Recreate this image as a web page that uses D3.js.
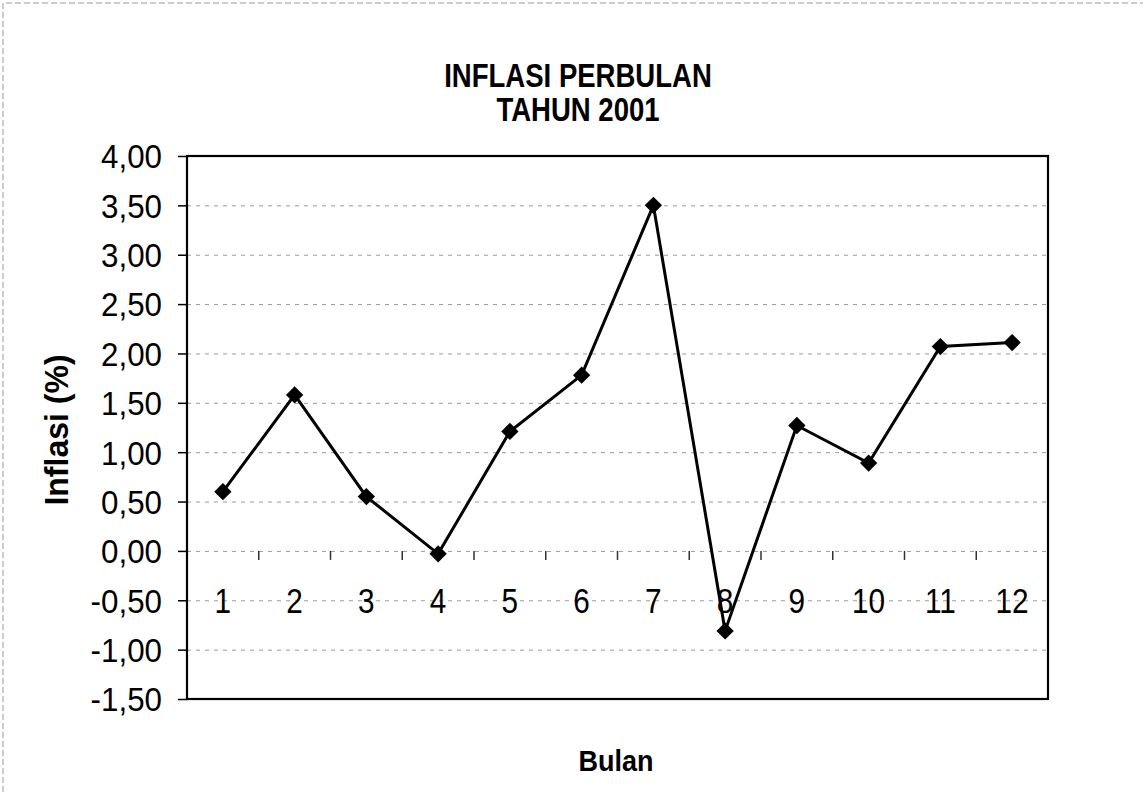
<!DOCTYPE html>
<html><head><meta charset="utf-8">
<script src="https://cdn.jsdelivr.net/npm/d3@7"></script>
<style>
body{margin:0;background:#fff}
svg{display:block}
text{font-family:"Liberation Sans", Arial, sans-serif;fill:#000}
</style>
</head><body>
<svg id="c" width="1143" height="793"></svg>
<script>
const categories = ["1","2","3","4","5","6","7","8","9","10","11","12"];
const values = [0.60, 1.58, 0.55, -0.03, 1.21, 1.78, 3.50, -0.81, 1.27, 0.89, 2.07, 2.11];
const yTickValues = [4, 3.5, 3, 2.5, 2, 1.5, 1, 0.5, 0, -0.5, -1, -1.5];
const titleLines = ["INFLASI PERBULAN", "TAHUN 2001"];
const xTitle = "Bulan";
const yTitle = "Inflasi (%)";

const svg = d3.select("#c");
const M = {left: 187, right: 1048, top: 156, bottom: 699};
const x = d3.scaleBand().domain(categories).range([M.left, M.right]);
const y = d3.scaleLinear().domain([-1.5, 4]).range([M.bottom, M.top]);
const fmt = d => (d < 0 ? "-" : "") + Math.abs(d).toFixed(2).replace(".", ",");

// outer chart frame (top + left visible in scan)
svg.append("path").attr("d", "M3,792 V3 H1143")
  .attr("fill", "none").attr("stroke", "#9a9a9a").attr("stroke-width", 1).attr("stroke-dasharray", "6,3");

// gridlines
const grid = svg.append("g").attr("transform", `translate(${M.left},0)`)
  .call(d3.axisLeft(y).tickValues(yTickValues.filter(v => v > -1.5 && v < 4))
    .tickSize(-(M.right - M.left)).tickFormat(""));
grid.select(".domain").remove();
grid.selectAll("line").attr("stroke", "#9a9a9a").attr("stroke-width", 1).attr("stroke-dasharray", "4,5");

// category boundary ticks on the zero line
const bounds = categories.slice(1).map(c => x(c));
svg.append("g").selectAll("line").data(bounds).join("line")
  .attr("x1", d => d).attr("x2", d => d)
  .attr("y1", y(0)).attr("y2", y(0) + 9)
  .attr("stroke", "#333").attr("stroke-width", 1.5);

// x category labels on the -0.5 row
const xAxis = svg.append("g").attr("transform", `translate(0,${y(-0.5)})`)
  .call(d3.axisBottom(x).tickSize(0));
xAxis.select(".domain").remove();
xAxis.selectAll("text")
  .attr("y", 0).attr("dy", "0.36em")
  .attr("font-size", 35).attr("fill", "#000")
  .attr("transform", "scale(0.85,1)")
  .style("font-family", '"Liberation Sans", Arial, sans-serif');

// y axis
const yAxis = svg.append("g").attr("transform", `translate(${M.left},0)`)
  .call(d3.axisLeft(y).tickValues(yTickValues).tickSize(9).tickFormat(fmt));
yAxis.select(".domain").remove();
yAxis.selectAll("line").attr("stroke", "#000").attr("stroke-width", 1.5);
yAxis.selectAll("text")
  .attr("x", -25 / 0.95).attr("dy", "0.36em")
  .attr("font-size", 33).attr("fill", "#000")
  .attr("text-anchor", "end")
  .attr("transform", "scale(0.95,1)")
  .style("font-family", '"Liberation Sans", Arial, sans-serif');

// plot border
svg.append("rect").attr("x", M.left).attr("y", M.top)
  .attr("width", M.right - M.left).attr("height", M.bottom - M.top)
  .attr("fill", "none").attr("stroke", "#000").attr("stroke-width", 2.2);

// series line
const cx = i => x(categories[i]) + x.bandwidth() / 2;
svg.append("path").datum(values)
  .attr("d", d3.line().x((d, i) => cx(i)).y(d => y(d)))
  .attr("fill", "none").attr("stroke", "#000").attr("stroke-width", 3)
  .attr("stroke-linejoin", "miter");

// diamond markers
svg.append("g").selectAll("path").data(values).join("path")
  .attr("d", d3.symbol(d3.symbolSquare, 150)())
  .attr("transform", (d, i) => `translate(${cx(i)},${y(d)}) rotate(45)`)
  .attr("fill", "#000");

// titles
const tY = [87, 121];
svg.append("g").selectAll("text").data(titleLines).join("text")
  .attr("transform", (d, i) => `translate(578,${tY[i]}) scale(0.835,1)`)
  .attr("text-anchor", "middle").attr("font-weight", "bold").attr("font-size", 33)
  .text(d => d);

svg.append("text")
  .attr("transform", "translate(616,760) scale(0.9,1)")
  .attr("dy", "0.36em").attr("text-anchor", "middle")
  .attr("font-weight", "bold").attr("font-size", 30).text(xTitle);

svg.append("text")
  .attr("transform", "translate(56,430) rotate(-90) scale(0.97,1)")
  .attr("dy", "0.36em").attr("text-anchor", "middle")
  .attr("font-weight", "bold").attr("font-size", 33).text(yTitle);
</script>
</body></html>
